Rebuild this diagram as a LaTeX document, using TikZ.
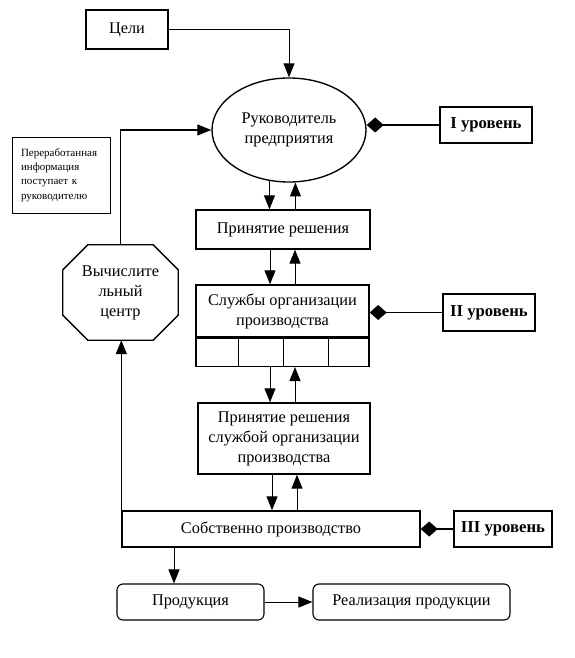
\documentclass[tikz,border=0pt]{standalone}
\usepackage{fontspec}
\setmainfont{Liberation Serif}
\usetikzlibrary{arrows.meta,shapes.geometric}
\begin{document}
\begin{tikzpicture}[x=1pt,y=-1pt,
  box/.style={draw,line width=1.35pt,inner sep=0pt,align=center,font=\fontsize{16.3}{20}\selectfont},
  lvl/.style={draw,line width=1.2pt,inner sep=0pt,align=center,font=\fontsize{16.7}{20}\selectfont\bfseries},
  rbox/.style={draw,line width=1.1pt,rounded corners=6pt,inner sep=0pt,align=center,font=\fontsize{16.3}{20}\selectfont},
  notebox/.style={draw,line width=0.9pt,inner xsep=9pt,inner ysep=0pt,text width=80pt,align=left,font=\fontsize{11}{14.3}\selectfont},
  arr/.style={line width=1pt,-{Triangle[length=14pt,width=11pt]}},
  dia/.style={line width=1.2pt,-{Diamond[length=17pt,width=15pt]}},
  octline/.style={line width=1.35pt,line join=miter}]
\useasboundingbox (0,0) rectangle (574,658);
\fill[white] (0,0) rectangle (574,658);

% nodes
\node[box,minimum width=82pt,minimum height=39pt] (goals) at (127,29.5) {Цели};
\node[box,ellipse,minimum width=154pt,minimum height=104pt] (ell) at (289,130) {Руководитель\\предприятия};
\node[lvl,minimum width=92pt,minimum height=36pt] (l1) at (486,125) {I уровень};
\node[notebox,minimum height=76pt] (note) at (61,175) {Переработанная\\информация\\поступает к\\руководителю};
\node[align=center,inner sep=0pt,minimum width=115pt,minimum height=95pt,font=\fontsize{16.3}{20}\selectfont] (vc) at (120.5,292.5) {Вычислите\\льный\\центр};
\node[box,minimum width=174pt,minimum height=39pt] (pr1) at (283,229.5) {Принятие решения};
\node[box,minimum width=173pt,minimum height=52pt] (sl) at (282.5,311) {Службы организации\\производства};
\node[box,minimum width=173pt,minimum height=28pt,anchor=north] (strip) at (sl.south) {};
\node[lvl,minimum width=92pt,minimum height=37pt] (l2) at (489,312.5) {II уровень};
\node[box,minimum width=172pt,minimum height=71pt] (pr2) at (284,438.5) {Принятие решения\\службой организации\\производства};
\node[box,minimum width=298pt,minimum height=36pt] (sob) at (271,529) {Собственно производство};
\node[lvl,minimum width=98pt,minimum height=36pt] (l3) at (503,529) {III уровень};
\node[rbox,minimum width=147pt,minimum height=36pt] (prod) at (190.5,602) {Продукция};
\node[rbox,minimum width=197pt,minimum height=36pt] (real) at (411.5,602) {Реализация продукции};

% octagon outline
\draw[octline] ([xshift=25pt]vc.north west) -- ([xshift=-25pt]vc.north east)
  -- ([yshift=-25pt]vc.north east) -- ([yshift=25pt]vc.south east)
  -- ([xshift=-25pt]vc.south east) -- ([xshift=25pt]vc.south west)
  -- ([yshift=25pt]vc.south west) -- ([yshift=-25pt]vc.north west) -- cycle;

% cells of the strip
\foreach \s in {-44.5,0.5,45.5}
  \draw[line width=1pt] ([xshift=\s pt]strip.north) -- ([xshift=\s pt]strip.south);

% helper x positions
\coordinate (dn) at (270,0);
\coordinate (up) at (295,0);
\coordinate (dnb) at (272,0);
\coordinate (upb) at (297,0);
\coordinate (pd) at (174,0);

% connectors
\draw[arr] (goals.east) -| (ell.north);
\draw[arr] (vc.north) |- (ell.west);
\draw[arr] (sob.north west) -- (sob.north west |- vc.south);

\draw[arr] (ell.249) -- (ell.249 |- pr1.north);
\draw[arr] (ell.277 |- pr1.north) -- (ell.277);
\draw[arr] (dn |- pr1.south) -- (dn |- sl.north);
\draw[arr] (up |- sl.north) -- (up |- pr1.south);
\draw[arr] (dn |- strip.south) -- (dn |- pr2.north);
\draw[arr] (up |- pr2.north) -- (up |- strip.south);
\draw[arr] (dnb |- pr2.south) -- (dnb |- sob.north);
\draw[arr] (upb |- sob.north) -- (upb |- pr2.south);

\draw[arr] (pd |- sob.south) -- (pd |- prod.north);
\draw[arr] (prod) -- (real);

\draw[dia] (l1.west) -- (l1.west -| ell.east);
\draw[dia] (l2.west) -- (l2.west -| sl.east);
\draw[dia] (l3.west) -- (l3.west -| sob.east);
\end{tikzpicture}
\end{document}
